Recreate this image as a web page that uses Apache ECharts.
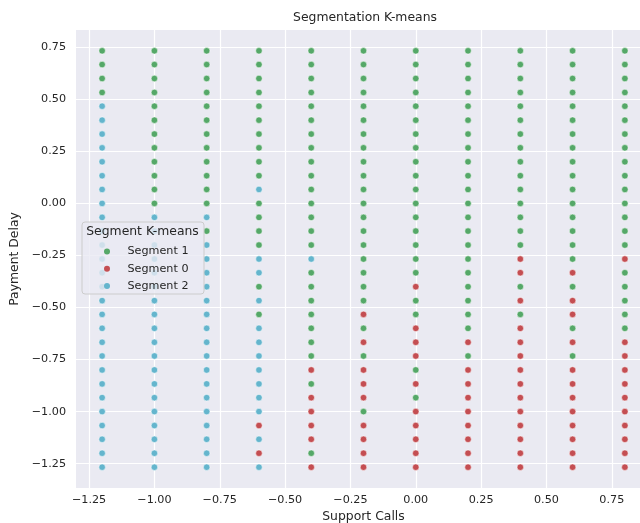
<!DOCTYPE html>
<html lang="en">
<head>
  <meta charset="UTF-8">
  <script src="https://cdn.jsdelivr.net/npm/echarts/dist/echarts.min.js"></script>
  <title>Segmentation K-means</title>
  <style>
    html, body { margin: 0; padding: 0; background: #fff; }
    #chart { width: 640px; height: 523px; }
  </style>
</head>
<body>
  <div id="chart"></div>
  <script>
    // support calls (x) columns, left to right
    const supportCalls = [-1.2, -1.0, -0.8, -0.6, -0.4, -0.2, 0.0, 0.2, 0.4, 0.6, 0.8];
    // payment delay (y) rows, top to bottom
    const paymentDelay = [0.733, 0.667, 0.600, 0.533, 0.467, 0.400, 0.333, 0.267, 0.200, 0.133,
      0.067, 0.000, -0.067, -0.133, -0.200, -0.267, -0.333, -0.400, -0.467, -0.533,
      -0.600, -0.667, -0.733, -0.800, -0.867, -0.933, -1.000, -1.067, -1.133, -1.200, -1.267];
    // segment of each point: one string per column, one digit per row (top to bottom)
    const segmentByColumn = [
      '1111222222222222222222222222222',
      '1111111111112222222222222222222',
      '1111111111112122222222222222222',
      '1111111111211112212122222220202',
      '1111111111111112111111101000010',
      '1111111111111111111010100010000',
      '1111111111111111101100010100000',
      '1111111111111111111110100000000',
      '1111111111111110010100000000000',
      '1111111111111111010010100000000',
      '1111111111111110111110000000000'
    ];
    const segmentNames = ['Segment 1', 'Segment 0', 'Segment 2'];
    const segmentIds = ['1', '0', '2'];
    const segmentColors = ['#55a868', '#c44e52', '#64b5cd'];
    const xTicks = [-1.25, -1.0, -0.75, -0.5, -0.25, 0, 0.25, 0.5, 0.75];
    const yTicks = [-1.25, -1.0, -0.75, -0.5, -0.25, 0, 0.25, 0.5, 0.75];

    const fmt = v => v.toFixed(2).replace('-', '\u2212');

    const series = segmentIds.map((id, s) => {
      const pts = [];
      supportCalls.forEach((x, c) => {
        paymentDelay.forEach((y, r) => {
          if (segmentByColumn[c][r] === id) pts.push([x, y]);
        });
      });
      return {
        name: segmentNames[s],
        type: 'scatter',
        data: pts,
        symbolSize: 6.5,
        itemStyle: { color: segmentColors[s], borderColor: '#fff', borderWidth: 0.5, opacity: 1 },
        emphasis: { disabled: true }
      };
    });

    const chart = echarts.init(document.getElementById('chart'));
    const textColor = '#262626';
    const font = 'DejaVu Sans';

    chart.setOption({
      animation: false,
      textStyle: { fontFamily: font },
      grid: {
        left: 76, right: -11, top: 30, bottom: 35,
        outerBoundsMode: 'none', containLabel: false,
        show: true, backgroundColor: '#eaeaf2', borderWidth: 0
      },
      xAxis: {
        type: 'value', min: -1.3, max: 0.9,
        name: 'Support Calls', nameLocation: 'middle', nameGap: 22,
        nameTextStyle: { color: textColor, fontSize: 12.4, fontFamily: font },
        axisLine: { show: false },
        axisTick: { show: false, customValues: xTicks },
        axisLabel: { customValues: xTicks, formatter: fmt, color: textColor, fontSize: 11.2, margin: 7, fontFamily: font },
        splitLine: { show: true, customValues: xTicks, lineStyle: { color: '#fff', width: 1.2 } }
      },
      yAxis: {
        type: 'value', min: -1.367, max: 0.833,
        name: 'Payment Delay', nameLocation: 'middle', nameGap: 48,
        nameTextStyle: { color: textColor, fontSize: 12.4, fontFamily: font },
        axisLine: { show: false },
        axisTick: { show: false, customValues: yTicks },
        axisLabel: { customValues: yTicks, formatter: fmt, color: textColor, fontSize: 11.2, margin: 10, fontFamily: font },
        splitLine: { show: true, customValues: yTicks, lineStyle: { color: '#fff', width: 1.2 } }
      },
      legend: {
        orient: 'vertical', left: 99, top: 239.5,
        data: segmentNames,
        icon: 'circle', itemWidth: 27, itemHeight: 6, itemGap: 3.5,
        itemStyle: { borderWidth: 0 },
        textStyle: { color: textColor, fontSize: 11.2, fontFamily: font, lineHeight: 13.8, padding: [0, 0, 0, 2] },
        selectedMode: false, z: 10
      },
      graphic: [
        {
          type: 'text', x: 365, y: 18, z: 10,
          style: { text: 'Segmentation K-means', fill: textColor, fontSize: 12.4, fontFamily: font, align: 'center', verticalAlign: 'middle' }
        },
        {
          type: 'rect', shape: { x: 82, y: 222, width: 122, height: 72, r: 3 }, z: 5,
          style: { fill: 'rgba(234,234,242,0.8)', stroke: '#cccccc', lineWidth: 1 }
        },
        {
          type: 'text', x: 142.5, y: 232, z: 6,
          style: { text: 'Segment K-means', fill: textColor, fontSize: 12.4, fontFamily: font, align: 'center', verticalAlign: 'middle' }
        }
      ],
      series: series
    });
  </script>
</body>
</html>
